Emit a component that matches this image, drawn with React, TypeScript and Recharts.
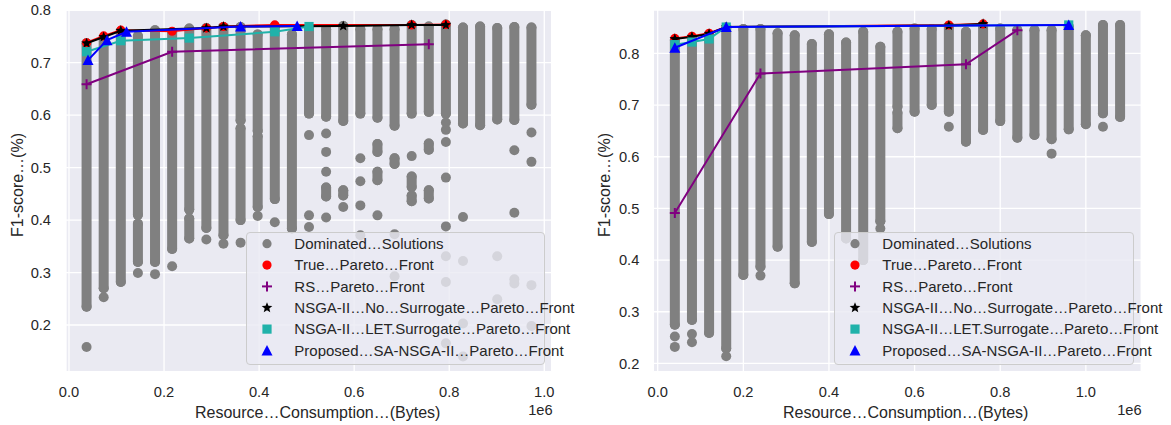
import React from 'react';
import { ScatterChart, Scatter, XAxis, YAxis, CartesianGrid, Legend } from 'recharts';

const FONT = '"Liberation Sans", Arial, Helvetica, sans-serif';
const TEXT = '#262626';
const GRAY = '#808080';
const RED = '#FF0000';
const PURPLE = '#800080';
const BLACK = '#000000';
const TEAL = '#20B2AA';
const BLUE = '#0000FF';

type Seg = [number, number, number];
type Pt = [number, number];

// ---------- shared tick labels / texts ----------
const xTicks = [0, 0.2, 0.4, 0.6, 0.8, 1.0];
const yTicks = [0.2, 0.3, 0.4, 0.5, 0.6, 0.7, 0.8];
const xLabel = 'Resource…Consumption…(Bytes)';
const yLabel = 'F1-score…(%)';
const offsetLabel = '1e6';
const legendLabels = [
  'Dominated…Solutions',
  'True…Pareto…Front',
  'RS…Pareto…Front',
  'NSGA-II…No…Surrogate…Pareto…Front',
  'NSGA-II…LET.Surrogate…Pareto…Front',
  'Proposed…SA-NSGA-II…Pareto…Front',
];
const legendKinds = ['gray', 'red', 'plus', 'star', 'square', 'triangle'];

// ---------- left panel data (x in 1e6 bytes) ----------
// dominated solutions: dense columns [x, top, bottom]
const leftColumns: Seg[] = [
  [0.037, 0.737, 0.235],
  [0.073, 0.748, 0.270],
  [0.109, 0.760, 0.282],
  [0.145, 0.751, 0.410],
  [0.145, 0.393, 0.320],
  [0.181, 0.762, 0.320],
  [0.217, 0.758, 0.345],
  [0.253, 0.765, 0.420],
  [0.253, 0.403, 0.365],
  [0.289, 0.766, 0.385],
  [0.325, 0.768, 0.371],
  [0.361, 0.768, 0.590],
  [0.361, 0.575, 0.400],
  [0.397, 0.754, 0.570],
  [0.397, 0.560, 0.425],
  [0.433, 0.770, 0.440],
  [0.469, 0.754, 0.384],
  [0.505, 0.767, 0.603],
  [0.541, 0.764, 0.597],
  [0.541, 0.462, 0.445],
  [0.577, 0.770, 0.589],
  [0.577, 0.457, 0.447],
  [0.613, 0.764, 0.603],
  [0.649, 0.764, 0.595],
  [0.649, 0.545, 0.530],
  [0.649, 0.492, 0.476],
  [0.685, 0.764, 0.580],
  [0.685, 0.518, 0.507],
  [0.721, 0.772, 0.603],
  [0.721, 0.483, 0.463],
  [0.721, 0.447, 0.436],
  [0.757, 0.769, 0.606],
  [0.757, 0.546, 0.534],
  [0.757, 0.457, 0.441],
  [0.793, 0.773, 0.603],
  [0.829, 0.767, 0.584],
  [0.865, 0.769, 0.581],
  [0.901, 0.766, 0.592],
  [0.937, 0.768, 0.591],
  [0.973, 0.767, 0.620],
];
// dominated solutions: isolated points
const leftDots: Pt[] = [
  [0.037, 0.158], [0.073, 0.253], [0.145, 0.299], [0.181, 0.297], [0.217, 0.312],
  [0.289, 0.363], [0.325, 0.355], [0.361, 0.357], [0.397, 0.408], [0.433, 0.396],
  [0.505, 0.562], [0.505, 0.409], [0.505, 0.387],
  [0.541, 0.565], [0.541, 0.530], [0.541, 0.492], [0.541, 0.405],
  [0.577, 0.425],
  [0.613, 0.518], [0.613, 0.474], [0.613, 0.428], [0.613, 0.371],
  [0.649, 0.409],
  [0.685, 0.373], [0.685, 0.293],
  [0.721, 0.522],
  [0.793, 0.586], [0.793, 0.572], [0.793, 0.549], [0.793, 0.481], [0.793, 0.388],
  [0.793, 0.331], [0.793, 0.282], [0.793, 0.165],
  [0.829, 0.406], [0.829, 0.322], [0.829, 0.203], [0.829, 0.140],
  [0.901, 0.331], [0.901, 0.249],
  [0.937, 0.533], [0.937, 0.414], [0.937, 0.287], [0.937, 0.279],
  [0.973, 0.567], [0.973, 0.511], [0.973, 0.276], [0.973, 0.198],
];
const leftTrue: Pt[] = [
  [0.037, 0.738], [0.073, 0.751], [0.109, 0.762], [0.217, 0.760], [0.289, 0.766],
  [0.325, 0.769], [0.433, 0.772], [0.721, 0.772], [0.793, 0.773],
];
const leftRS: Pt[] = [[0.037, 0.659], [0.217, 0.721], [0.757, 0.735]];
const leftNoSur: Pt[] = [
  [0.037, 0.737], [0.073, 0.749], [0.109, 0.761], [0.289, 0.766], [0.325, 0.769],
  [0.577, 0.770], [0.721, 0.772], [0.793, 0.772],
];
const leftLET: Pt[] = [[0.037, 0.721], [0.109, 0.742], [0.253, 0.747], [0.433, 0.759], [0.505, 0.769]];
const leftProp: Pt[] = [[0.040, 0.705], [0.080, 0.743], [0.121, 0.759], [0.361, 0.769], [0.480, 0.770]];

// ---------- right panel data ----------
const rightColumns: Seg[] = [
  [0.04, 0.826, 0.275],
  [0.08, 0.830, 0.284],
  [0.12, 0.836, 0.259],
  [0.16, 0.848, 0.229],
  [0.20, 0.847, 0.371],
  [0.24, 0.847, 0.387],
  [0.28, 0.839, 0.426],
  [0.32, 0.835, 0.355],
  [0.36, 0.818, 0.435],
  [0.40, 0.837, 0.489],
  [0.44, 0.821, 0.442],
  [0.48, 0.842, 0.400],
  [0.52, 0.813, 0.475],
  [0.56, 0.842, 0.697],
  [0.56, 0.685, 0.655],
  [0.60, 0.848, 0.687],
  [0.64, 0.847, 0.700],
  [0.68, 0.852, 0.687],
  [0.72, 0.842, 0.629],
  [0.76, 0.853, 0.652],
  [0.80, 0.848, 0.669],
  [0.84, 0.845, 0.637],
  [0.88, 0.845, 0.642],
  [0.92, 0.845, 0.634],
  [0.96, 0.852, 0.653],
  [1.00, 0.835, 0.663],
  [1.04, 0.855, 0.684],
  [1.08, 0.855, 0.677],
];
const rightDots: Pt[] = [
  [0.04, 0.252], [0.04, 0.232], [0.08, 0.257], [0.08, 0.241], [0.16, 0.214],
  [0.24, 0.370], [0.52, 0.461], [0.68, 0.658], [0.92, 0.606], [1.04, 0.658],
];
const rightTrue: Pt[] = [[0.04, 0.829], [0.08, 0.833], [0.12, 0.839], [0.16, 0.851], [0.68, 0.855], [0.76, 0.857]];
const rightRS: Pt[] = [[0.04, 0.491], [0.24, 0.761], [0.72, 0.779], [0.84, 0.845]];
const rightNoSur: Pt[] = [[0.04, 0.828], [0.08, 0.832], [0.12, 0.838], [0.16, 0.851], [0.68, 0.854], [0.76, 0.857]];
const rightLET: Pt[] = [[0.04, 0.817], [0.08, 0.822], [0.12, 0.828], [0.16, 0.851], [0.96, 0.855]];
const rightProp: Pt[] = [[0.04, 0.811], [0.16, 0.851], [0.96, 0.855]];

// ---------- helpers ----------
const toPts = (arr: Pt[]) => arr.map(([x, y]) => ({ x, y }));
const fmt = (v: number) => v.toFixed(1);

function starPoints(cx: number, cy: number, R: number, r: number) {
  const pts: string[] = [];
  for (let i = 0; i < 10; i++) {
    const rad = i % 2 === 0 ? R : r;
    const a = -Math.PI / 2 + (i * Math.PI) / 5;
    pts.push(`${cx + rad * Math.cos(a)},${cy + rad * Math.sin(a)}`);
  }
  return pts.join(' ');
}

function Marker({ kind, cx, cy, legend }: { kind: string; cx: number; cy: number; legend?: boolean }) {
  if (cx == null || cy == null) return null;
  switch (kind) {
    case 'gray':
      return <circle cx={cx} cy={cy} r={legend ? 4.6 : 5} fill={GRAY} />;
    case 'red':
      return <circle cx={cx} cy={cy} r={4.6} fill={RED} />;
    case 'plus':
      return (
        <g stroke={PURPLE} strokeWidth={2}>
          <line x1={cx - 5} y1={cy} x2={cx + 5} y2={cy} />
          <line x1={cx} y1={cy - 5} x2={cx} y2={cy + 5} />
        </g>
      );
    case 'star':
      return <polygon points={starPoints(cx, cy, 5.6, 2.4)} fill={BLACK} />;
    case 'square':
      return <rect x={cx - 4.6} y={cy - 4.6} width={9.2} height={9.2} fill={TEAL} />;
    case 'triangle':
      return <polygon points={`${cx},${cy - 5.5} ${cx - 5.5},${cy + 5} ${cx + 5.5},${cy + 5}`} fill={BLUE} />;
    default:
      return null;
  }
}

const shapeOf = (kind: string) => (props: any) => <Marker kind={kind} cx={props.cx} cy={props.cy} />;

function LegendBox({ w, h }: { w: number; h: number }) {
  return (
    <div
      style={{
        position: 'relative',
        width: w,
        height: h,
        boxSizing: 'border-box',
        background: 'rgba(234,234,242,0.8)',
        border: '1px solid #CCCCCC',
        borderRadius: 4,
      }}
    >
      <svg width={w} height={h} style={{ position: 'absolute', left: -1, top: -1, overflow: 'visible' }}>
        {legendLabels.map((label, i) => {
          const cy = 11.7 + 21.35 * i;
          return (
            <g key={label}>
              <Marker kind={legendKinds[i]} cx={21} cy={cy} legend />
              <text x={48.3} y={cy + 5.3} fontSize={15} fill={TEXT} fontFamily={FONT}>
                {label}
              </text>
            </g>
          );
        })}
      </svg>
    </div>
  );
}

interface PanelCfg {
  width: number;
  yAxisWidth: number;
  rightMargin: number;
  xDomain: [number, number];
  yDomain: [number, number];
  yTickMargin: number;
  columns: Seg[];
  dots: Pt[];
  truePF: Pt[];
  rsPF: Pt[];
  noSurPF: Pt[];
  letPF: Pt[];
  propPF: Pt[];
  xLabelX: number;
  yLabelX: number;
  offsetX: number;
  legendLeft: number;
  legendTop: number;
  legendW: number;
  legendH: number;
}

const tickStyle = { fontSize: 14.67, fill: TEXT, fontFamily: FONT };

function Panel({ cfg }: { cfg: PanelCfg }) {
  return (
    <ScatterChart width={cfg.width} height={425} margin={{ top: 10, right: cfg.rightMargin, bottom: 0, left: 0 }}>
      <CartesianGrid fill="#EAEAF2" stroke="#FFFFFF" strokeWidth={1.3} />
      <XAxis
        type="number"
        dataKey="x"
        domain={cfg.xDomain}
        allowDataOverflow
        ticks={xTicks}
        interval={0}
        tickFormatter={fmt}
        tick={tickStyle}
        tickSize={0}
        tickMargin={15}
        axisLine={false}
        tickLine={false}
        height={53.3}
        label={() => (
          <g>
            <text x={cfg.xLabelX} y={418} fontSize={16} fill={TEXT} fontFamily={FONT} textAnchor="start">
              {xLabel}
            </text>
            <text x={cfg.offsetX} y={415} fontSize={14.67} fill={TEXT} fontFamily={FONT} textAnchor="end">
              {offsetLabel}
            </text>
          </g>
        )}
      />
      <YAxis
        type="number"
        dataKey="y"
        domain={cfg.yDomain}
        allowDataOverflow
        ticks={yTicks}
        interval={0}
        tickFormatter={fmt}
        tick={tickStyle}
        tickSize={0}
        tickMargin={cfg.yTickMargin}
        axisLine={false}
        tickLine={false}
        width={cfg.yAxisWidth}
        label={() => (
          <text
            x={cfg.yLabelX}
            y={237}
            transform={`rotate(-90 ${cfg.yLabelX} 237)`}
            fontSize={16}
            fill={TEXT}
            fontFamily={FONT}
            textAnchor="start"
          >
            {yLabel}
          </text>
        )}
      />
      {cfg.columns.map(([x, top, bottom], i) => (
        <Scatter
          key={`col-${i}`}
          data={[{ x, y: top }, { x, y: bottom }]}
          fill={GRAY}
          line={{ stroke: GRAY, strokeWidth: 10, strokeLinecap: 'round' }}
          lineType="joint"
          shape={shapeOf('gray')}
          legendType="none"
          isAnimationActive={false}
        />
      ))}
      <Scatter data={toPts(cfg.dots)} fill={GRAY} shape={shapeOf('gray')} legendType="none" isAnimationActive={false} />
      <Scatter
        data={toPts(cfg.truePF)}
        fill={RED}
        line={{ stroke: RED, strokeWidth: 2 }}
        lineType="joint"
        shape={shapeOf('red')}
        legendType="none"
        isAnimationActive={false}
      />
      <Scatter
        data={toPts(cfg.rsPF)}
        fill={PURPLE}
        line={{ stroke: PURPLE, strokeWidth: 2 }}
        lineType="joint"
        shape={shapeOf('plus')}
        legendType="none"
        isAnimationActive={false}
      />
      <Scatter
        data={toPts(cfg.noSurPF)}
        fill={BLACK}
        line={{ stroke: BLACK, strokeWidth: 2 }}
        lineType="joint"
        shape={shapeOf('star')}
        legendType="none"
        isAnimationActive={false}
      />
      <Scatter
        data={toPts(cfg.letPF)}
        fill={TEAL}
        line={{ stroke: TEAL, strokeWidth: 2 }}
        lineType="joint"
        shape={shapeOf('square')}
        legendType="none"
        isAnimationActive={false}
      />
      <Scatter
        data={toPts(cfg.propPF)}
        fill={BLUE}
        line={{ stroke: BLUE, strokeWidth: 2 }}
        lineType="joint"
        shape={shapeOf('triangle')}
        legendType="none"
        isAnimationActive={false}
      />
      <Legend
        layout="horizontal"
        verticalAlign="middle"
        align="center"
        wrapperStyle={{ left: cfg.legendLeft, top: cfg.legendTop, width: cfg.legendW, height: cfg.legendH }}
        content={() => <LegendBox w={cfg.legendW} h={cfg.legendH} />}
      />
    </ScatterChart>
  );
}

const leftCfg: PanelCfg = {
  width: 580,
  yAxisWidth: 66,
  rightMargin: 28.3,
  xDomain: [-0.0063, 1.0156],
  yDomain: [0.111, 0.8005],
  yTickMargin: 15,
  columns: leftColumns,
  dots: leftDots,
  truePF: leftTrue,
  rsPF: leftRS,
  noSurPF: leftNoSur,
  letPF: leftLET,
  propPF: leftProp,
  xLabelX: 195,
  yLabelX: 22.5,
  offsetX: 552.7,
  legendLeft: 245.7,
  legendTop: 232.3,
  legendW: 299.3,
  legendH: 132.7,
};

const rightCfg: PanelCfg = {
  width: 586,
  yAxisWidth: 68.3,
  rightMargin: 29.8,
  xDomain: [-0.0103, 1.1293],
  yDomain: [0.184, 0.884],
  yTickMargin: 14,
  columns: rightColumns,
  dots: rightDots,
  truePF: rightTrue,
  rsPF: rightRS,
  noSurPF: rightNoSur,
  letPF: rightLET,
  propPF: rightProp,
  xLabelX: 198,
  yLabelX: 25,
  offsetX: 556.7,
  legendLeft: 249,
  legendTop: 231.7,
  legendW: 300,
  legendH: 133.3,
};

export default function App() {
  return (
    <div style={{ position: 'absolute', left: 0, top: 0, width: 1171, height: 425, background: '#FFFFFF', fontFamily: FONT }}>
      <div style={{ position: 'absolute', left: 0, top: 0 }}>
        <Panel cfg={leftCfg} />
      </div>
      <div style={{ position: 'absolute', left: 585, top: 0 }}>
        <Panel cfg={rightCfg} />
      </div>
    </div>
  );
}
